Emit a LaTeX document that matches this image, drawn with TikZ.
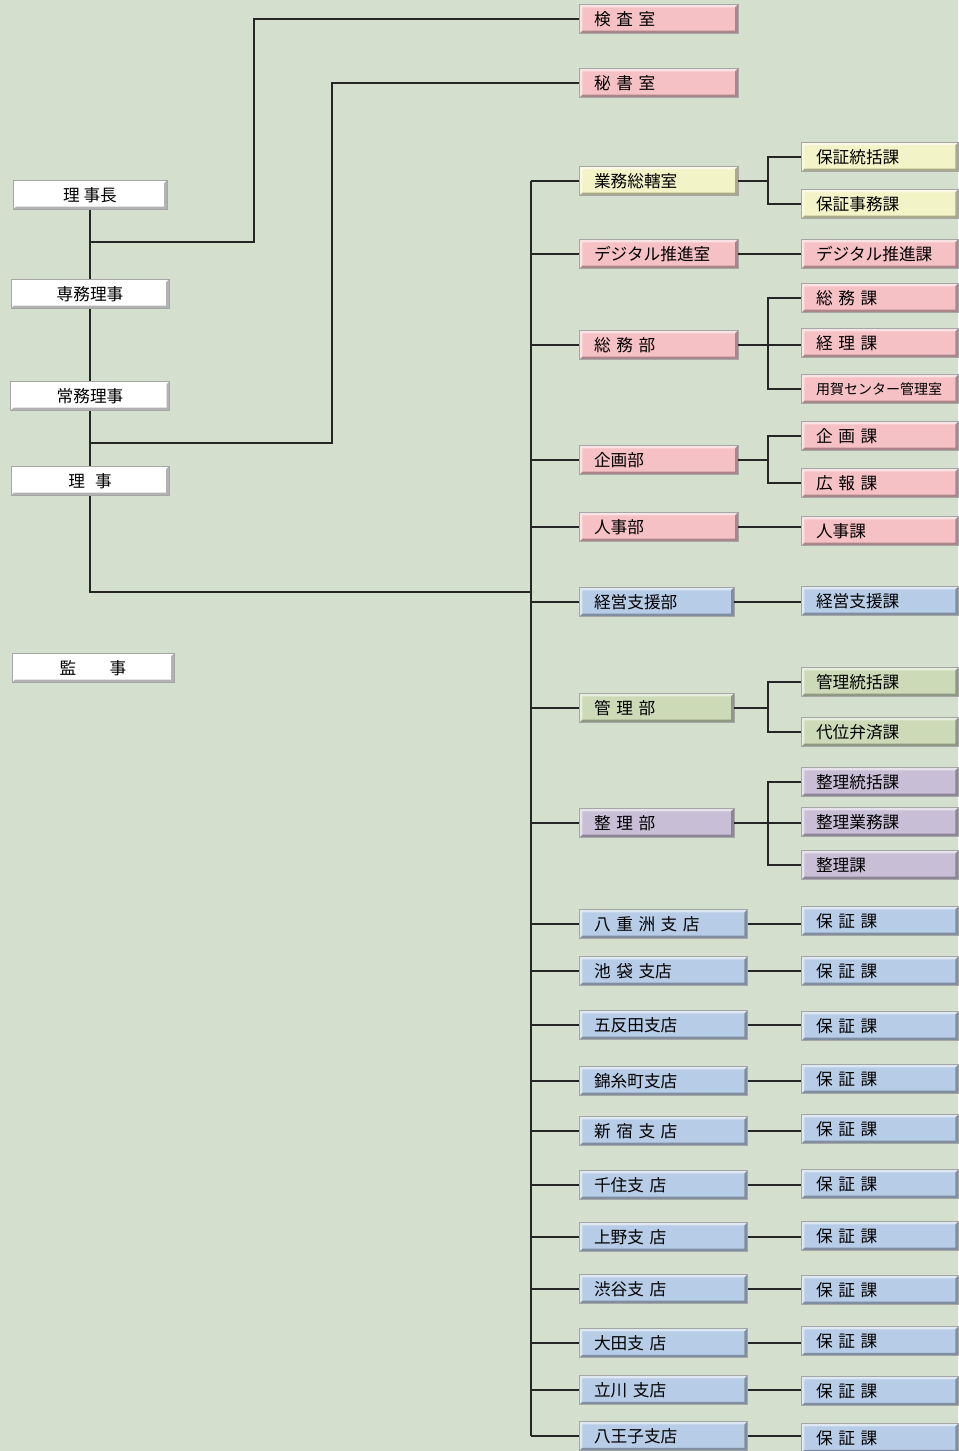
\documentclass[tikz,border=0pt]{standalone}
\usepackage{fontspec}
\setmainfont{Noto Sans CJK JP}
\usetikzlibrary{positioning, calc}
\definecolor{bg}{RGB}{213,223,205}
\definecolor{pinkc}{RGB}{246,193,196}
\definecolor{yellowc}{RGB}{243,243,200}
\definecolor{bluec}{RGB}{183,204,230}
\definecolor{greenc}{RGB}{205,218,184}
\definecolor{purplec}{RGB}{200,191,215}
\tikzset{
  wire/.style={draw=black!85, line width=1.6pt},
  bevel/.style={draw=black!35, line width=0.6pt, minimum height=22pt, inner ysep=0pt, inner xsep=11pt, align=left,
    path picture={
      \coordinate (sw) at (path picture bounding box.south west);
      \coordinate (se) at (path picture bounding box.south east);
      \coordinate (nw) at (path picture bounding box.north west);
      \coordinate (ne) at (path picture bounding box.north east);
      \fill[white, opacity=.55] (sw) -- (nw) -- (ne) -- ([shift={(-2.2pt,-2.2pt)}]ne) -- ([shift={(2.2pt,-2.2pt)}]nw) -- ([shift={(2.2pt,2.2pt)}]sw) -- cycle;
      \fill[black, opacity=.3] (sw) -- ([shift={(2.2pt,2.2pt)}]sw) -- ([shift={(-2.2pt,2.2pt)}]se) -- ([shift={(-2.2pt,-2.2pt)}]ne) -- (ne) -- (se) -- cycle;
    }},
  head/.style={bevel, fill=white, minimum width=#1},
  dept/.style={bevel, fill=#1, anchor=west, text width=97pt},
  deptn/.style={bevel, fill=#1, anchor=west, text width=94pt},
  branch/.style={bevel, fill=bluec, anchor=west, text width=104pt},
  sect/.style={bevel, fill=#1, anchor=west, text width=95.75pt},
}
\begin{document}
\begin{tikzpicture}[x=0.75pt, y=-0.75pt, font=\fontsize{12.5}{14}\selectfont]
  \fill[bg] (0,0) rectangle (958,1451);
  \useasboundingbox (0,0) rectangle (958,1451);

  % board
  \node[head=115.5pt] (chairman) at (90,195) {理 事長};
  \node[head=118.5pt] (senmu) at (90,294) {専務理事};
  \node[head=119.25pt] (jomu) at (90,396) {常務理事};
  \node[head=118.5pt] (riji) at (90,481) {理\hspace{0.6em}事};
  \node[head=121.5pt] (kanji) at (93,668) {監　　事};
  \coordinate (t1) at (90,242); \coordinate (t2) at (90,443); \coordinate (join) at (531,592);

  % offices and departments
  \node[dept=pinkc] (kensa) at (579,19) {検 査 室};
  \node[dept=pinkc] (hisho) at (579,83) {秘 書 室};
  \node[dept=yellowc] (gyomu) at (579,181) {業務総轄室};
  \node[dept=pinkc] (digital) at (579,254) {デジタル推進室};
  \node[dept=pinkc] (somu) at (579,345) {総 務 部};
  \node[dept=pinkc] (kikaku) at (579,460) {企画部};
  \node[dept=pinkc] (jinji) at (579,527) {人事部};
  \node[deptn=bluec] (keiei) at (579,602) {経営支援部};
  \node[deptn=greenc] (kanri) at (579,708) {管 理 部};
  \node[deptn=purplec] (seiri) at (579,823) {整 理 部};

  % sections
  \node[sect=yellowc] (hoshotokatsu) at (801,157) {保証統括課};
  \node[sect=yellowc] (hoshojimu) at (801,204) {保証事務課};
  \node[sect=pinkc] (digitalka) at (801,254) {デジタル推進課};
  \node[sect=pinkc] (somuka) at (801,298) {総 務 課};
  \node[sect=pinkc] (keirika) at (801,343) {経 理 課};
  \node[sect=pinkc, font=\fontsize{10.5}{12}\selectfont] (yoga) at (801,389) {用賀センター管理室};
  \node[sect=pinkc] (kikakuka) at (801,436) {企 画 課};
  \node[sect=pinkc] (kohoka) at (801,483) {広 報 課};
  \node[sect=pinkc] (jinjika) at (801,531) {人事課};
  \node[sect=bluec] (keieika) at (801,601) {経営支援課};
  \node[sect=greenc] (kanritokatsu) at (801,682) {管理統括課};
  \node[sect=greenc] (daii) at (801,732) {代位弁済課};
  \node[sect=purplec] (seiritokatsu) at (801,782) {整理統括課};
  \node[sect=purplec] (seirigyomu) at (801,822) {整理業務課};
  \node[sect=purplec] (seirika) at (801,865) {整理課};

  % lines
  \draw[wire] (chairman) -- (senmu); \draw[wire] (senmu) -- (jomu); \draw[wire] (jomu) -- (riji);
  \draw[wire] (t1) -| (kensa.west -| 254,0) -- (kensa.west);
  \draw[wire] (t2) -| (hisho.west -| 332,0) -- (hisho.west);
  \draw[wire] (riji.south) |- (join);
  \draw[wire] (gyomu.west -| join) -- (gyomu.west); \draw[wire] (digital.west -| join) -- (digital.west);
  \draw[wire] (somu.west -| join) -- (somu.west); \draw[wire] (kikaku.west -| join) -- (kikaku.west);
  \draw[wire] (jinji.west -| join) -- (jinji.west); \draw[wire] (keiei.west -| join) -- (keiei.west);
  \draw[wire] (kanri.west -| join) -- (kanri.west); \draw[wire] (seiri.west -| join) -- (seiri.west);

  \draw[wire] (gyomu.east) -- (gyomu.east -| 768,0);
  \draw[wire] (hoshotokatsu.west) -| (768,0 |- gyomu.east) |- (hoshojimu.west);
  \draw[wire] (digital.east) -- (digital.east -| digitalka.west);
  \draw[wire] (somu.east) -- (somu.east -| keirika.west);
  \draw[wire] (somuka.west) -| (768,0 |- somu.east) |- (yoga.west);
  \draw[wire] (kikaku.east) -- (kikaku.east -| 768,0);
  \draw[wire] (kikakuka.west) -| (768,0 |- kikaku.east) |- (kohoka.west);
  \draw[wire] (jinji.east) -- (jinji.east -| jinjika.west);
  \draw[wire] (keiei.east) -- (keiei.east -| keieika.west);
  \draw[wire] (kanri.east) -- (kanri.east -| 768,0);
  \draw[wire] (kanritokatsu.west) -| (768,0 |- kanri.east) |- (daii.west);
  \draw[wire] (seiri.east) -- (seiri.east -| seirigyomu.west);
  \draw[wire] (seiritokatsu.west) -| (768,0 |- seiri.east) |- (seirika.west);

  % branches
  \foreach \i/\txt/\y/\yk in {1/八 重 洲 支 店/924/921, 2/池 袋 支店/971/971, 3/五反田支店/1025/1026,
      4/錦糸町支店/1081/1079, 5/新 宿 支 店/1131/1129, 6/千住支 店/1185/1184, 7/上野支 店/1237/1236,
      8/渋谷支 店/1289/1290, 9/大田支 店/1343/1341, 10/立川 支店/1390/1391, 11/八王子支店/1436/1438}{
    \node[branch] (br\i) at (579,\y) {\txt};
    \node[sect=bluec] (ka\i) at (801,\yk) {保 証 課};
    \draw[wire] (br\i.west -| join) -- (br\i.west);
    \draw[wire] (br\i.east) -- (br\i.east -| ka\i.west);
  }
  \draw[wire] (gyomu.west -| join) -- (br11.west -| join);
\end{tikzpicture}
\end{document}
